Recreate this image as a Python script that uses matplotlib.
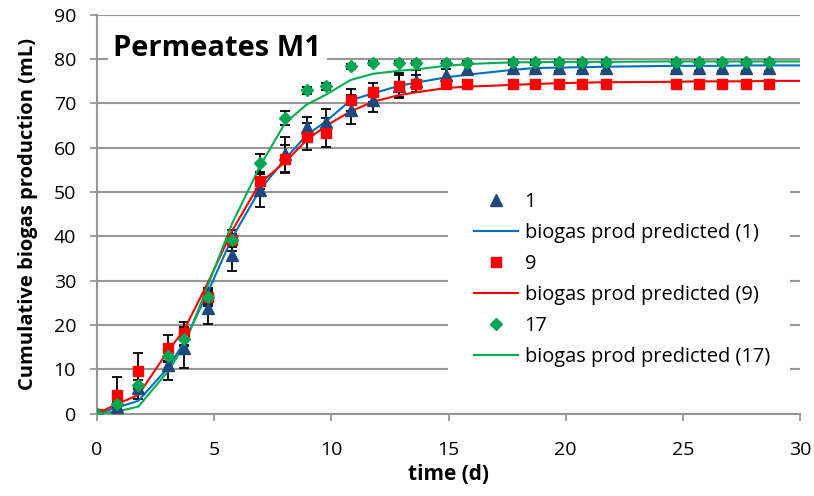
import numpy as np
import matplotlib
matplotlib.use('Agg')
import matplotlib.pyplot as plt
from matplotlib.patches import Rectangle

plt.rcParams['font.family'] = ['Open Sans', 'DejaVu Sans']

# sampling times (d)
times = [0, 0.87, 1.77, 3.04, 3.71, 4.74, 5.76, 6.95, 8.03, 8.96, 9.78, 10.82, 11.78,
         12.9, 13.6, 14.9, 15.8, 17.75, 18.7, 19.7, 20.7, 21.7, 24.7, 25.7, 26.67, 27.7, 28.68]

# observed cumulative biogas (mL)
obs_1  = [0, 1.6, 5.8, 11.0, 14.9, 23.8, 35.8, 50.4, 58.5, 64.6, 65.8, 68.6, 70.8,
          73.9, 75.0, 76.4, 77.8, 78.1, 78.1, 78.1, 78.1, 78.1, 78.1, 78.1, 78.1, 78.1, 78.1]
obs_9  = [0, 4.2, 9.7, 14.8, 18.1, 26.3, 39.1, 52.5, 57.5, 62.5, 63.4, 70.8, 72.5,
          74.0, 74.5, 74.5, 74.5, 74.4, 74.4, 74.4, 74.4, 74.4, 74.4, 74.4, 74.4, 74.4, 74.4]
obs_17 = [0, 2.1, 6.5, 13.1, 16.8, 26.3, 39.1, 56.5, 66.8, 73.0, 73.9, 78.4, 79.1,
          79.1, 79.1, 79.1, 79.2, 79.3, 79.3, 79.3, 79.3, 79.3, 79.3, 79.3, 79.3, 79.3, 79.3]

# error bars (mL)
err_1  = [0, 0.5, 2.6, 3.4, 4.7, 3.6, 3.5, 3.7, 4.0, 2.4, 3.0, 3.3, 2.8,
          2.5, 2.5, 1.3, 1.0, 0.8, 0.8, 0.8, 0.8, 0.8, 0.8, 0.8, 0.8, 0.8, 0.8]
err_9  = [0, 4.0, 3.9, 3.0, 2.7, 2.1, 2.4, 1.8, 3.2, 3.0, 3.3, 2.4, 2.1,
          2.8, 2.0, 1.0, 0.8, 0.7, 0.7, 0.7, 0.7, 0.7, 0.7, 0.7, 0.7, 0.7, 0.7]
err_17 = [0, 0.5, 1.0, 1.5, 1.5, 1.5, 1.5, 2.0, 1.6, 0.8, 0.8, 0.6, 0.5,
          0.5, 0.5, 0.5, 0.5, 0.5, 0.5, 0.5, 0.5, 0.5, 0.5, 0.5, 0.5, 0.5, 0.5]

# model prediction
pred_t  = times + [30]
pred_1  = [0, 1.4, 2.9, 10.4, 16.0, 27.5, 39.6, 50.5, 57.5, 62.9, 66.0, 70.7, 72.3, 74.0,
           74.7, 75.9, 76.5, 77.6, 78.0, 78.1, 78.2, 78.3, 78.5, 78.5, 78.5, 78.6, 78.6, 78.6]
pred_9  = [0, 2.2, 4.2, 14.2, 18.8, 29.6, 41.2, 52.0, 56.8, 61.8, 65.0, 68.2, 70.4, 71.9,
           72.5, 73.5, 73.8, 74.2, 74.4, 74.6, 74.7, 74.8, 74.9, 75.0, 75.0, 75.0, 75.1, 75.1]
pred_17 = [0, 0.5, 1.6, 9.6, 15.2, 29.0, 42.8, 55.8, 65.6, 69.8, 72.0, 75.3, 76.7, 77.4,
           77.7, 78.5, 78.9, 79.3, 79.3, 79.4, 79.4, 79.4, 79.5, 79.5, 79.5, 79.5, 79.5, 79.5]

grey = '#969696'

fig = plt.figure(figsize=(8.14, 4.96), dpi=100)
ax = fig.add_axes([0.119, 0.166, 0.864, 0.804])

series = [
    ('1',  obs_1,  err_1,  pred_1,  '^', '#1F497D', '#0070C0', 8),
    ('9',  obs_9,  err_9,  pred_9,  's', '#FF0000', '#FF0000', 7.5),
    ('17', obs_17, err_17, pred_17, 'D', '#00A651', '#00B050', 6),
]

for name, obs, err, pred, mk, mcol, lcol, ms in series:
    ax.errorbar(times, obs, yerr=err, fmt='none', ecolor='black',
                elinewidth=1.3, capsize=3.5, capthick=1.3, zorder=3)
    ax.plot(times, obs, linestyle='none', marker=mk, color=mcol, ms=ms,
            label=name, zorder=4)
    ax.plot(pred_t, pred, color=lcol, lw=1.5, label=f'biogas prod predicted ({name})', zorder=3.5)

ax.set_xlim(0, 30)
ax.set_ylim(0, 90)
ax.set_xticks(np.arange(0, 31, 5))
ax.set_yticks(np.arange(0, 91, 10))
ax.yaxis.grid(True, color=grey, lw=1.5)
ax.set_axisbelow(True)

for s in ['top', 'right']:
    ax.spines[s].set_visible(False)
for s in ['left', 'bottom']:
    ax.spines[s].set_color(grey)
    ax.spines[s].set_linewidth(1.5)
ax.tick_params(axis='both', colors=grey, labelcolor='black', labelsize=14,
               length=5, width=1.3, direction='out')
ax.tick_params(axis='x', pad=14.5)
ax.tick_params(axis='y', pad=10)

ax.set_xlabel('time (d)', fontsize=15, fontweight='bold', labelpad=4)
ax.set_ylabel('Cumulative biogas production (mL)', fontsize=14.5, fontweight='bold', labelpad=11)

ax.text(0.7, 82.5, 'Permeates M1', fontsize=21, fontweight='bold', va='center', ha='left',
        bbox=dict(facecolor='white', edgecolor='none', pad=4), zorder=5)

# white box behind the legend hides the gridlines
ax.add_patch(Rectangle((0.550, 0.179), 0.421, 0.452, transform=fig.transFigure,
                       facecolor='white', edgecolor='none', zorder=1, clip_on=False))

leg = ax.legend(loc='upper left', bbox_to_anchor=(0.572, 0.63),
                bbox_transform=fig.transFigure, fontsize=14.4, frameon=False,
                handlelength=2.2, handletextpad=0.35, labelspacing=0.55,
                borderaxespad=0, borderpad=0.4)
leg.set_zorder(6)

fig.savefig('out.png', dpi=100)
